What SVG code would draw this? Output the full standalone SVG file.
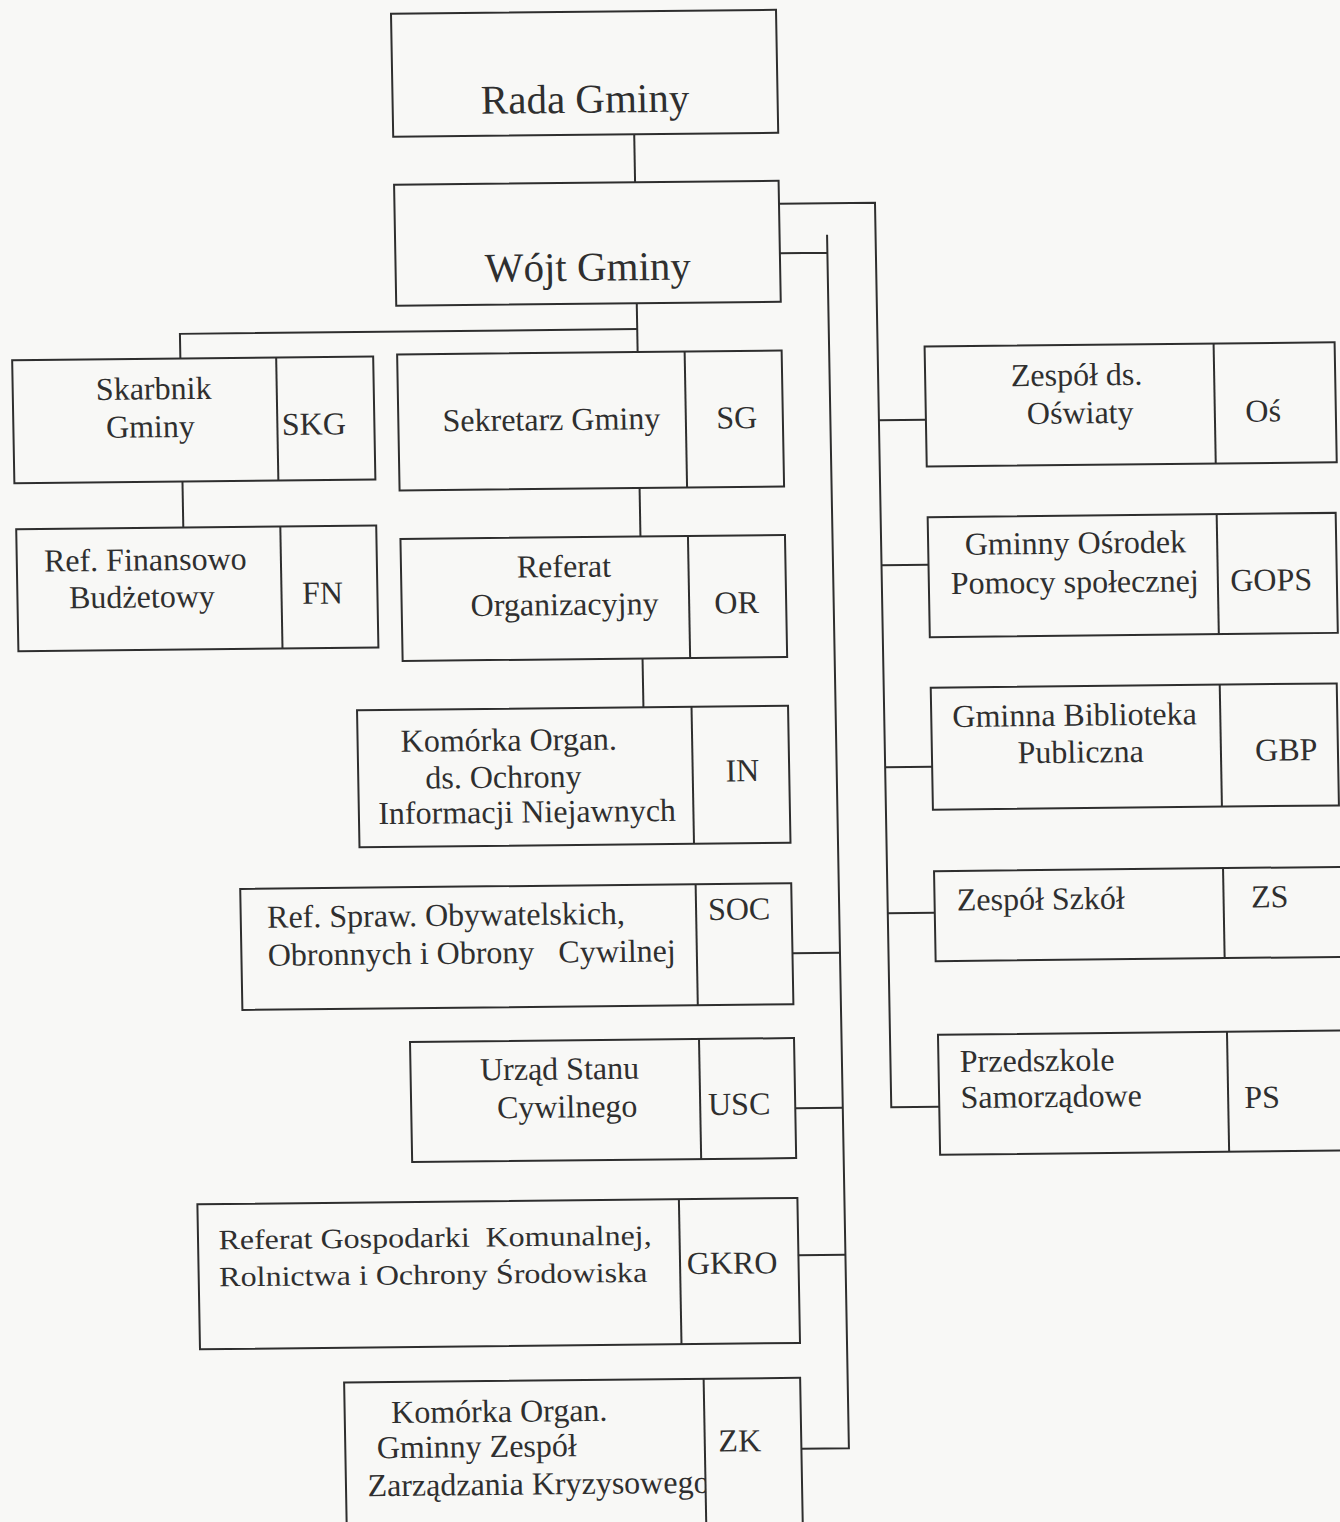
<svg xmlns="http://www.w3.org/2000/svg" width="1340" height="1522" viewBox="0 0 1340 1522">
<style>
.bx{fill:none;stroke:#2e2e2e;stroke-width:2}
.ln{fill:none;stroke:#2e2e2e;stroke-width:2}
text{font-family:"Liberation Serif","Times New Roman",serif;font-size:32px;fill:#2f2f2f}
.big{font-size:41px}
.c{text-anchor:middle}
.pre{white-space:pre}
.sm{font-size:28px}
</style>
<defs>
<clipPath id="zkclip"><rect x="333" y="1379" width="359.5" height="152"/></clipPath>
</defs>
<rect x="0" y="0" width="1340" height="1522" fill="#f8f8f6"/>
<g transform="matrix(1,-0.0105,0.018,1,-13.7,7.04)">
<g id="connectors">
<path class="ln" d="M645.5 134 V182"/>
<path class="ln" d="M645 303 V351.7"/>
<path class="ln" d="M645 328.8 H187.7 V353.5"/>
<path class="ln" d="M187.6 476.5 V522.5"/>
<path class="ln" d="M644.5 487.7 V536.2"/>
<path class="ln" d="M644.4 658.2 V707"/>
<path class="ln" d="M789 205 H885 V1109.5 H933"/>
<path class="ln" d="M885 422.4 H932 M885 567.5 H932 M885 769.5 H932 M885 915.5 H932"/>
<path class="ln" d="M789 254.6 H836.5 M836.5 236.6 V1449.9 H789"/>
<path class="ln" d="M789 954.5 H836.5 M789 1109.5 H836.5 M789 1256.5 H836.5"/>
</g>
<g id="rada">
<rect class="bx" x="404.5" y="11" width="385" height="123"/>
<text class="big c" x="597" y="112">Rada Gminy</text>
</g>
<g id="wojt">
<rect class="bx" x="404.5" y="182" width="384.5" height="121"/>
<text class="big c" x="596.7" y="280">Wójt Gminy</text>
</g>
<g id="skarbnik">
<rect class="bx" x="19.5" y="353.5" width="361" height="123"/>
<path class="ln" d="M283.5 353.5 V476.5"/>
<text class="c" x="160.5" y="394">Skarbnik</text>
<text class="c" x="156.5" y="432">Gminy</text>
<text class="c" x="320" y="431">SKG</text>
</g>
<g id="fn">
<rect class="bx" x="20.5" y="522.5" width="360" height="122"/>
<path class="ln" d="M284.6 522.5 V644.5"/>
<text class="c" x="149" y="565">Ref. Finansowo</text>
<text class="c" x="145" y="602">Budżetowy</text>
<text class="c" x="325.6" y="600">FN</text>
</g>
<g id="sg">
<rect class="bx" x="404.5" y="351.7" width="384.5" height="136"/>
<path class="ln" d="M692 351.7 V487.7"/>
<text class="c" x="557.6" y="429">Sekretarz Gminy</text>
<text class="c" x="743" y="429">SG</text>
</g>
<g id="or">
<rect class="bx" x="404.5" y="536.2" width="384.5" height="122"/>
<path class="ln" d="M692 536.2 V658.2"/>
<text class="c" x="567.4" y="576">Referat</text>
<text class="c" x="567.4" y="614">Organizacyjny</text>
<text class="c" x="739.4" y="614">OR</text>
</g>
<g id="in">
<rect class="bx" x="358" y="707" width="431" height="137"/>
<path class="ln" d="M692.5 707 V844"/>
<text class="c" x="509.2" y="749">Komórka Organ.</text>
<text class="c" x="503.2" y="786">ds. Ochrony</text>
<text class="c" x="526.2" y="821">Informacji Niejawnych</text>
<text class="c" x="742.2" y="782">IN</text>
</g>
<g id="soc">
<rect class="bx" x="238" y="884.4" width="551" height="121"/>
<path class="ln" d="M693.4 884.4 V1005.4"/>
<text x="264.4" y="923.4">Ref. Spraw. Obywatelskich,</text>
<text class="pre" xml:space="preserve" x="264.4" y="961.4">Obronnych i Obrony   Cywilnej</text>
<text class="c" x="736.4" y="920.4">SOC</text>
</g>
<g id="usc">
<rect class="bx" x="405" y="1039.3" width="384" height="120"/>
<path class="ln" d="M694 1039.3 V1159.3"/>
<text class="c" x="554" y="1078.3">Urząd Stanu</text>
<text class="c" x="561" y="1116.3">Cywilnego</text>
<text class="c" x="733" y="1115.3">USC</text>
</g>
<g id="gkro">
<rect class="bx" x="189.5" y="1199.2" width="600" height="145"/>
<path class="ln" d="M671 1199.2 V1344.2"/>
<text class="pre sm" xml:space="preserve" x="210" y="1244.5" textLength="433" lengthAdjust="spacingAndGlyphs">Referat Gospodarki  Komunalnej,</text>
<text class="sm" x="210" y="1281.5" textLength="428" lengthAdjust="spacingAndGlyphs">Rolnictwa i Ochrony Środowiska</text>
<text class="c" x="723" y="1274.2">GKRO</text>
</g>
<g id="zk">
<rect class="bx" x="333" y="1379" width="456" height="152"/>
<path class="ln" d="M692.5 1379 V1531"/>
<g clip-path="url(#zkclip)">
<text x="379.5" y="1420">Komórka Organ.</text>
<text x="364.5" y="1455">Gminny Zespół</text>
<text x="354.5" y="1493">Zarządzania Kryzysowego</text>
</g>
<text class="c" x="727.5" y="1452">ZK</text>
</g>
<g id="osw">
<rect class="bx" x="932" y="349.3" width="410" height="120"/>
<path class="ln" d="M1221 349.3 V469.3"/>
<text class="c" x="1083.4" y="389.8">Zespół ds.</text>
<text class="c" x="1086.4" y="427.8">Oświaty</text>
<text class="c" x="1269.4" y="427.8">Oś</text>
</g>
<g id="gops">
<rect class="bx" x="932" y="519.9" width="408" height="120"/>
<path class="ln" d="M1221 519.9 V639.9"/>
<text class="c" x="1079.3" y="557.9">Gminny Ośrodek</text>
<text class="c" x="1077.8" y="596.9">Pomocy społecznej</text>
<text class="c" x="1274.3" y="596.9">GOPS</text>
</g>
<g id="gbp">
<rect class="bx" x="932" y="690.4" width="406" height="122"/>
<path class="ln" d="M1221 690.4 V812.4"/>
<text class="c" x="1075.3" y="729.9">Gminna Biblioteka</text>
<text class="c" x="1080.8" y="766.9">Publiczna</text>
<text class="c" x="1286.3" y="766.9">GBP</text>
</g>
<g id="zs">
<rect class="bx" x="932" y="873.9" width="420" height="90"/>
<path class="ln" d="M1221 873.9 V963.9"/>
<text x="954.2" y="913.5">Zespół Szkół</text>
<text class="c" x="1267.2" y="913.5">ZS</text>
</g>
<g id="ps">
<rect class="bx" x="933" y="1037.5" width="420" height="120"/>
<path class="ln" d="M1222 1037.5 V1157.5"/>
<text x="954.4" y="1075">Przedszkole</text>
<text x="954.4" y="1111">Samorządowe</text>
<text class="c" x="1256" y="1114">PS</text>
</g>
</g>
</svg>
